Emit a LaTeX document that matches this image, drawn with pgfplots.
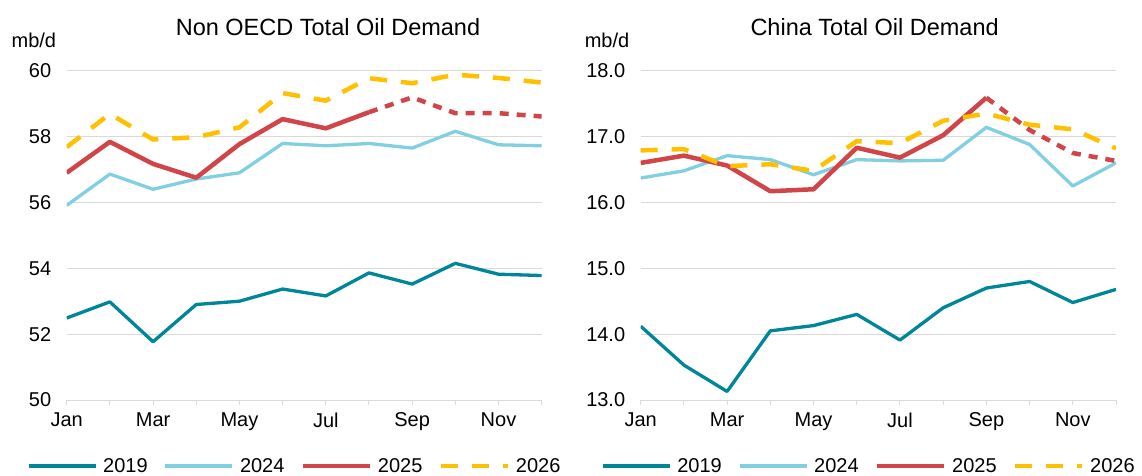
\documentclass[border=0pt]{standalone}
\usepackage{fontspec}
\setmainfont{Liberation Sans}
\usepackage{pgfplots}
\pgfplotsset{compat=1.18}
\definecolor{c19}{RGB}{0,134,153}
\definecolor{c24}{RGB}{128,207,226}
\definecolor{c25}{RGB}{209,69,72}
\definecolor{c26}{RGB}{255,192,0}
\definecolor{gridc}{RGB}{217,217,217}
\pgfplotsset{
  common/.style={
    scale only axis, width=475pt, height=329.3pt,
    xmin=1, xmax=12,
    xtick={1,...,12},
    xticklabels={Jan,,Mar,,May,,Jul,,Sep,,Nov,},
    axis x line*=bottom, axis y line*=left,
    y axis line style={draw=none},
    x axis line style={draw=gridc, line width=1pt},
    ytick style={draw=none},
    xtick style={draw=gridc, line width=1pt},
    tick align=outside, major tick length=5pt,
    ymajorgrids, grid style={draw=gridc, line width=1pt},
    ticklabel style={font=\fontsize{20}{24}\selectfont},
    yticklabel style={xshift=-7pt},
    xticklabel style={yshift=-4pt},
    /pgf/number format/assume math mode=true,
    legend columns=4,
    legend style={draw=none, fill=none, at={(0.48,-0.2)}, anchor=center,
      font=\fontsize{20}{24}\selectfont,
      /tikz/every odd column/.append style={column sep=4pt},
      /tikz/every even column/.append style={column sep=14pt}},
    legend image code/.code={\draw[##1] (0pt,0pt) -- (67pt,0pt);},
    every axis plot/.append style={line join=round},
  },
  s19/.style={color=c19, line width=3.3pt},
  s24/.style={color=c24, line width=3.3pt},
  s25/.style={color=c25, line width=4.5pt},
  s25d/.style={color=c25, line width=4.5pt, dash pattern=on 9pt off 8pt},
  s26/.style={color=c26, line width=4.5pt, dash pattern=on 17pt off 14pt},
}
\begin{document}
\begin{tikzpicture}
\path[use as bounding box] (0,0) rectangle (1142pt,475pt);
% Left chart
\begin{axis}[common, at={(66.7pt,75pt)}, anchor=south west,
  ymin=50, ymax=60, ytick={50,52,...,60}]
\addplot[s19] coordinates {(1,52.49) (2,52.98) (3,51.77) (4,52.90) (5,53.00) (6,53.37) (7,53.16) (8,53.86) (9,53.52) (10,54.15) (11,53.82) (12,53.78)};
\addlegendentry{2019}
\addplot[s24] coordinates {(1,55.91) (2,56.86) (3,56.40) (4,56.71) (5,56.90) (6,57.79) (7,57.72) (8,57.79) (9,57.65) (10,58.16) (11,57.75) (12,57.72)};
\addlegendentry{2024}
\addplot[s25] coordinates {(1,56.90) (2,57.84) (3,57.17) (4,56.75) (5,57.77) (6,58.53) (7,58.25) (8,58.74)};
\addlegendentry{2025}
\addplot[s26] coordinates {(1,57.68) (2,58.69) (3,57.91) (4,57.98) (5,58.28) (6,59.32) (7,59.09) (8,59.77) (9,59.62) (10,59.88) (11,59.78) (12,59.64)};
\addlegendentry{2026}
\addplot[s25d, forget plot] coordinates {(8,58.74) (9,59.19) (10,58.71) (11,58.71) (12,58.61)};
\end{axis}
% Right chart
\begin{axis}[common, at={(640.7pt,75pt)}, anchor=south west, width=475.3pt,
  ymin=13, ymax=18, ytick={13,14,...,18},
  yticklabel style={/pgf/number format/.cd, fixed, fixed zerofill, precision=1}]
\addplot[s19] coordinates {(1,14.12) (2,13.53) (3,13.13) (4,14.05) (5,14.13) (6,14.30) (7,13.91) (8,14.40) (9,14.70) (10,14.80) (11,14.48) (12,14.68)};
\addlegendentry{2019}
\addplot[s24] coordinates {(1,16.37) (2,16.48) (3,16.71) (4,16.65) (5,16.42) (6,16.65) (7,16.63) (8,16.64) (9,17.14) (10,16.88) (11,16.25) (12,16.60)};
\addlegendentry{2024}
\addplot[s25] coordinates {(1,16.60) (2,16.71) (3,16.56) (4,16.17) (5,16.20) (6,16.83) (7,16.68) (8,17.02) (9,17.59)};
\addlegendentry{2025}
\addplot[s26] coordinates {(1,16.79) (2,16.81) (3,16.55) (4,16.58) (5,16.48) (6,16.93) (7,16.90) (8,17.24) (9,17.35) (10,17.18) (11,17.11) (12,16.82)};
\addlegendentry{2026}
\addplot[s25d, forget plot] coordinates {(9,17.59) (10,17.10) (11,16.75) (12,16.63)};
\end{axis}
% Titles and units
\node[anchor=base, inner sep=0pt, font=\fontsize{23.5}{28}\selectfont] at (328pt,439.3pt) {Non OECD Total Oil Demand};
\node[anchor=base, inner sep=0pt, font=\fontsize{23.5}{28}\selectfont] at (874.6pt,439.3pt) {China Total Oil Demand};
\node[anchor=base west, inner sep=0pt, font=\fontsize{20}{24}\selectfont] at (11.4pt,427.5pt) {mb/d};
\node[anchor=base west, inner sep=0pt, font=\fontsize{20}{24}\selectfont] at (584.6pt,427.5pt) {mb/d};
\end{tikzpicture}
\end{document}
